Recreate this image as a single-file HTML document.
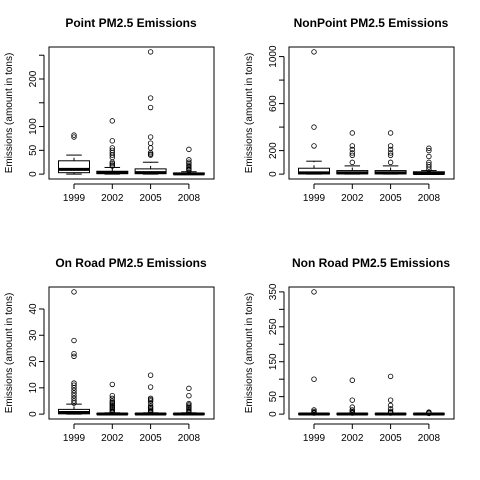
<!DOCTYPE html>
<html><head><meta charset="utf-8"><style>body{margin:0;background:#fff}svg{display:block}</style></head>
<body>
<svg id="c" width="480" height="480" xmlns="http://www.w3.org/2000/svg" font-family="Liberation Sans, sans-serif"></svg>
<script>
const categories = ["1999","2002","2005","2008"];
const titles = ["Point PM2.5 Emissions","NonPoint PM2.5 Emissions","On Road PM2.5 Emissions","Non Road PM2.5 Emissions"];
// [whiskerLow, q1, median, q3, whiskerHigh]
const p1Stats = [[0,3,10,28,40],[0,1,3,6,14],[0,1,3,11,25],[0,0,0.5,2,5]];
const p1Out = [[78,82],[17,19,22,25,35,40,45,50,55,70,112],[40,42,45,55,65,78,140,160,257],[8,10,12,15,18,22,25,30,52]];
const p1Ticks = [0,50,100,150,200,250];
const p1Labels = ["0","50","100","","200",""];
const p2Stats = [[0,2,10,50,110],[0,2,10,30,70],[0,2,10,30,70],[0,1,5,20,30]];
const p2Out = [[240,400,1040],[100,160,180,210,240,350],[100,160,180,210,240,350],[40,60,80,100,150,200,220]];
const p2Ticks = [0,200,400,600,800,1000];
const p2Labels = ["0","200","","600","","1000"];
const p3Stats = [[0,0.1,0.6,1.8,3.8],[0,0,0.05,0.2,0.5],[0,0,0.05,0.2,0.5],[0,0,0.05,0.2,0.5]];
const p3Out = [[4.2,5,6,7,8,9,10,11,11.8,22,23,28,46.5],[0.7,1,1.5,2,2.5,3,3.5,4,4.5,5,6,7,11.3],[0.7,1,1.5,2,2.5,3,4,5,5.5,6,10.3,14.8],[0.7,1,1.5,2,2.5,3,3.5,4,7,9.8]];
const p3Ticks = [0,10,20,30,40];
const p3Labels = ["0","10","20","30","40"];
const p4Stats = [[0,0,0.2,1,2],[0,0,0.2,1,2],[0,0,0.2,1,2],[0,0,0.2,1,1.5]];
const p4Out = [[3,5,8,12,100,350],[3,5,8,12,20,40,97],[3,5,8,15,25,40,108],[2,4,6]];
const p4Ticks = [0,50,100,150,200,250,300,350];
const p4Labels = ["0","50","","150","","250","","350"];

const NS="http://www.w3.org/2000/svg";
const svg=document.getElementById('c');
function mk(t,a,p){const e=document.createElementNS(NS,t);for(const k in a)e.setAttribute(k,a[k]);(p||svg).appendChild(e);return e;}
const panels=[
 {ox:0,oy:0,stats:p1Stats,out:p1Out,ticks:p1Ticks,labels:p1Labels},
 {ox:240,oy:0,stats:p2Stats,out:p2Out,ticks:p2Ticks,labels:p2Labels},
 {ox:0,oy:240,stats:p3Stats,out:p3Out,ticks:p3Ticks,labels:p3Labels},
 {ox:240,oy:240,stats:p4Stats,out:p4Out,ticks:p4Ticks,labels:p4Labels}];
panels.forEach((P,pi)=>{
 const g=mk('g',{});
 
 
 const L=P.ox+49,R=P.ox+214,T=P.oy+47,B=P.oy+179;
 let mx=0;P.stats.forEach(s=>mx=Math.max(mx,s[4]));P.out.forEach(o=>o.forEach(v=>mx=Math.max(mx,v)));
 const lo=-0.04*mx,hi=mx*1.04;
 const y=v=>B-(v-lo)/(hi-lo)*(B-T);
 const x=i=>L+(i+0.5)/4*(R-L)-(i-1.5)*0+0;
 const xc=i=>P.ox+74+i*38.3;
 const t=mk('text',{x:P.ox+131,y:P.oy+27,'text-anchor':'middle','font-size':12,'font-weight':'bold'},g);t.textContent=titles[pi];
 
 const fr=mk('rect',{x:L,y:T,width:R-L,height:B-T,fill:'none',stroke:'#000','stroke-width':1},g);
 
 const yl=mk('text',{x:0,y:0,transform:`translate(${P.ox+12},${(T+B)/2}) rotate(-90)`,'text-anchor':'middle','font-size':10},g);yl.textContent='Emissions (amount in tons)';
 
 const ax=mk('g',{},g);
 const y0=y(P.ticks[0]),y1=y(P.ticks[P.ticks.length-1]);
 mk('line',{x1:L-5,x2:L-5,y1:y0,y2:y1,stroke:'#000'},ax);
 P.ticks.forEach((v,k)=>{const yy=y(v);mk('line',{x1:L-5,x2:L-10,y1:yy,y2:yy,stroke:'#000'},ax);
  if(P.labels[k]){const tl=mk('text',{x:0,y:0,transform:`translate(${P.ox+36},${yy}) rotate(-90)`,'text-anchor':'middle','font-size':10},ax);tl.textContent=P.labels[k];}});
 const xa=mk('g',{},g);
 mk('line',{x1:xc(0),x2:xc(3),y1:B+5,y2:B+5,stroke:'#000'},xa);
 categories.forEach((c,i)=>{mk('line',{x1:xc(i),x2:xc(i),y1:B+5,y2:B+10,stroke:'#000'},xa);
  const tl=mk('text',{x:xc(i),y:P.oy+201,'text-anchor':'middle','font-size':10},xa);tl.textContent=c;});
 P.stats.forEach((s,i)=>{
  const bg=mk('g',{},g);
  const cx=xc(i),w=15.5;
  mk('line',{x1:cx,x2:cx,y1:y(s[0]),y2:y(s[1]),stroke:'#000','stroke-dasharray':'3,3'},bg);
  mk('line',{x1:cx,x2:cx,y1:y(s[3]),y2:y(s[4]),stroke:'#000','stroke-dasharray':'3,3'},bg);
  mk('line',{x1:cx-w/2,x2:cx+w/2,y1:y(s[0]),y2:y(s[0]),stroke:'#000'},bg);
  mk('line',{x1:cx-w/2,x2:cx+w/2,y1:y(s[4]),y2:y(s[4]),stroke:'#000'},bg);
  mk('rect',{x:cx-w,y:y(s[3]),width:2*w,height:Math.max(0,y(s[1])-y(s[3])),fill:'#fff',stroke:'#000'},bg);
  mk('line',{x1:cx-w,x2:cx+w,y1:y(s[2]),y2:y(s[2]),stroke:'#000','stroke-width':3},bg);
  P.out[i].forEach(v=>mk('circle',{cx:cx,cy:y(v),r:2.3,fill:'none',stroke:'#000','stroke-width':0.8},bg));
 });
});
</script>
</body></html>
